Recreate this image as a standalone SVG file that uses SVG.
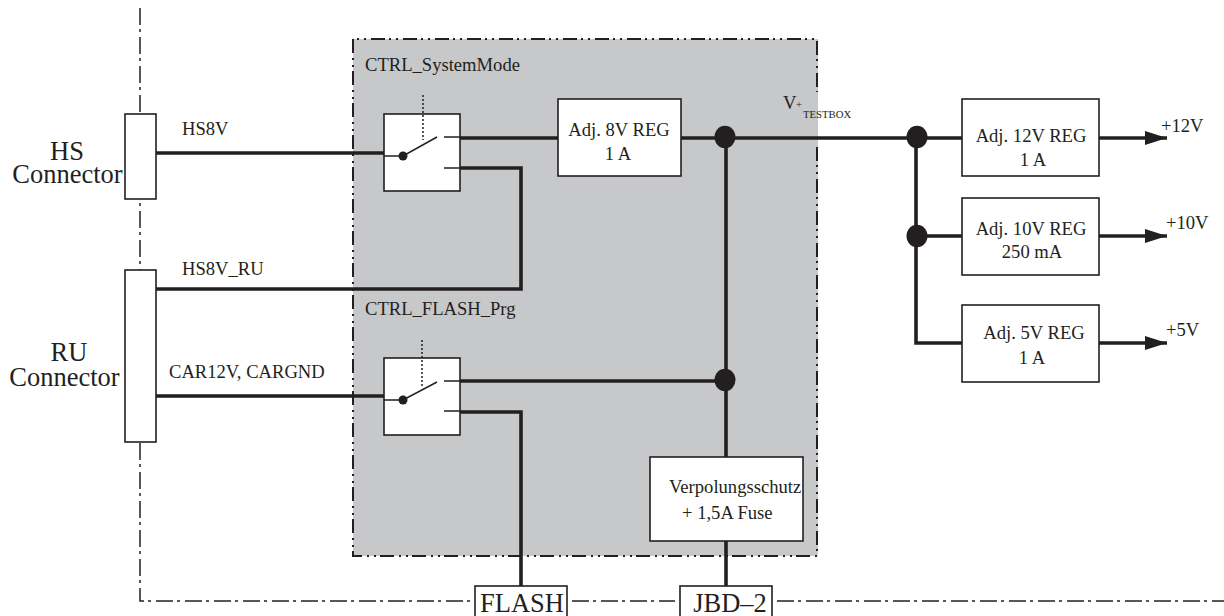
<svg xmlns="http://www.w3.org/2000/svg" width="1224" height="616" viewBox="0 0 1224 616">
<style>
text{font-family:"Liberation Serif","Times New Roman",serif;fill:#231f20;font-size:18.6px}
.big{font-size:26.5px;text-anchor:middle}
.m{text-anchor:middle}
.sm{font-size:10.7px}
.box{fill:#fff;stroke:#231f20;stroke-width:1.6}
.w{fill:none;stroke:#231f20;stroke-width:3.6}
.a{fill:none;stroke:#231f20;stroke-width:3.6;marker-end:url(#arr)}
.thin{fill:none;stroke:#231f20;stroke-width:1.5}
.dots{fill:none;stroke:#231f20;stroke-width:1.5;stroke-dasharray:2 2}
.dash{fill:none;stroke:#231f20;stroke-width:1.5;stroke-dasharray:17 4 3 5}
.bd{fill:none;stroke:#231f20;stroke-width:2;stroke-dasharray:14 4 2 5 2 5}
.dot{fill:#231f20}
</style>
<defs>
<marker id="arr" markerUnits="userSpaceOnUse" markerWidth="24" markerHeight="16" refX="22" refY="8" orient="auto"><path d="M0 1L22 8L0 15Z" fill="#231f20"/></marker>
</defs>
<g id="boundary">
<rect x="353" y="39" width="465" height="517" fill="#c7c8ca"/>
<path class="bd" d="M817 147V556H353V39H817V92"/>
<path class="dash" d="M140 8V601H472"/>
<path class="dash" d="M572 601H675"/>
<path class="dash" d="M777 601H1224"/>
</g>
<g id="connectors">
<path class="w" d="M156 153H384M460 138H558M460 168H521V289H156M156 396H384M460 381H726M460 412H521V586M681 138H962M726 138V457M726 541V586M916 138V343H962M916 236H962"/>
<path class="a" d="M1099 138H1167"/>
<path class="a" d="M1099 236H1167"/>
<path class="a" d="M1099 343H1167"/>
</g>
<g id="hs-connector"><rect class="box" x="125" y="114" width="31" height="85"/><text class="big" x="67" y="160">HS</text><text class="big" x="67.500" y="183">Connector</text></g>
<g id="ru-connector"><rect class="box" x="125" y="270" width="31" height="172"/><text class="big" x="69" y="361">RU</text><text class="big" x="64.500" y="386">Connector</text></g>
<g id="switch1"><rect class="box" x="384" y="114" width="76" height="77"/>
<path class="dots" d="M423 95V140"/><path class="thin" d="M384 156H403L437 137M444 137H460M444 168H460"/><circle class="dot" cx="403" cy="156" r="4.500"/></g>
<g id="switch2"><rect class="box" x="384" y="358" width="76" height="77"/>
<path class="dots" d="M422 340V388"/><path class="thin" d="M384 400H403L437 382M444 381H460M444 411H460"/><circle class="dot" cx="403" cy="400" r="4.500"/></g>
<g id="reg8"><rect class="box" x="558" y="99" width="123" height="77"/><text class="m" x="619" y="136">Adj. 8V REG</text><text class="m" x="618" y="160">1 A</text></g>
<g id="reg12"><rect class="box" x="962" y="99" width="137" height="77"/><text class="m" x="1031" y="142">Adj. 12V REG</text><text class="m" x="1033" y="166">1 A</text></g>
<g id="reg10"><rect class="box" x="962" y="198" width="137" height="77"/><text class="m" x="1031" y="235">Adj. 10V REG</text><text class="m" x="1032" y="258">250 mA</text></g>
<g id="reg5"><rect class="box" x="962" y="305" width="137" height="77"/><text class="m" x="1034" y="339">Adj. 5V REG</text><text class="m" x="1032" y="364">1 A</text></g>
<g id="fuse"><rect class="box" x="650" y="457" width="153" height="84"/><text x="669" y="493">Verpolungsschutz</text><text x="682" y="519">+ 1,5A Fuse</text></g>
<g id="flash"><rect class="box" x="475" y="586" width="92" height="34"/><text class="big" x="522" y="612">FLASH</text></g>
<g id="jbd"><rect class="box" x="680" y="586" width="92" height="34"/><text class="big" x="730" y="612">JBD–2</text></g>
<g id="junctions">
<ellipse class="dot" cx="725" cy="137" rx="10.500" ry="11.300"/><ellipse class="dot" cx="917" cy="137" rx="10.500" ry="11.300"/><ellipse class="dot" cx="917" cy="236" rx="10.500" ry="11.300"/><ellipse class="dot" cx="725" cy="380" rx="10.500" ry="11.300"/>
</g>
<g id="labels">
<text x="365" y="71">CTRL_SystemMode</text>
<text x="365" y="315">CTRL_FLASH_Prg</text>
<text x="182" y="135">HS8V</text>
<text x="182" y="275">HS8V_RU</text>
<text x="169" y="378">CAR12V, CARGND</text>
<text x="783" y="109">V</text><text class="sm" x="796" y="108">+</text><text class="sm" x="803" y="118">TESTBOX</text>
<text x="1161" y="132">+12V</text>
<text x="1166" y="229">+10V</text>
<text x="1166" y="336">+5V</text>
</g>
</svg>
